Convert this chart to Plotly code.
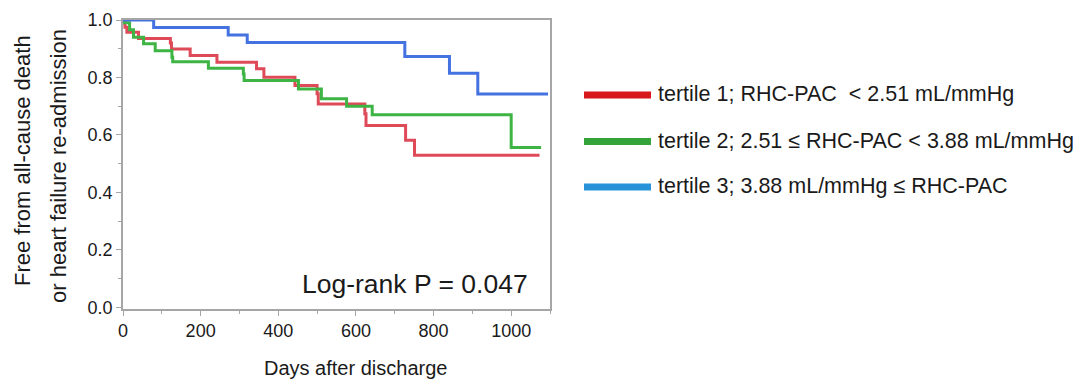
import plotly.graph_objects as go

# Kaplan-Meier step data (days, survival)
t1_days = [0, 5, 10, 40, 122, 125, 173, 242, 344, 363, 443, 500, 503, 623, 626, 728, 751, 1073]
t1_surv = [0.99, 0.975, 0.957, 0.936, 0.92, 0.899, 0.876, 0.853, 0.830, 0.801, 0.772, 0.743, 0.708, 0.674, 0.633, 0.581, 0.529, 0.529]

t2_days = [0, 17, 27, 53, 83, 126, 128, 220, 310, 312, 452, 511, 576, 642, 1000, 1077]
t2_surv = [0.99, 0.966, 0.94, 0.917, 0.893, 0.870, 0.855, 0.832, 0.812, 0.789, 0.760, 0.726, 0.700, 0.670, 0.556, 0.556]

t3_days = [0, 79, 271, 320, 726, 841, 914, 1095]
t3_surv = [1.0, 0.974, 0.948, 0.922, 0.873, 0.815, 0.742, 0.742]

legend_labels = [
    "tertile 1; RHC-PAC  < 2.51 mL/mmHg",
    "tertile 2; 2.51 ≤ RHC-PAC < 3.88 mL/mmHg",
    "tertile 3; 3.88 mL/mmHg ≤ RHC-PAC",
]
y_title_lines = ["Free from all-cause death", "or heart failure re-admission"]
x_title = "Days after discharge"
curve_colors = ["#de4a58", "#3db444", "#4472e0"]
legend_colors = ["#d7191c", "#33a33a", "#2893d8"]

FONT = "Liberation Sans, Arial, sans-serif"
TXT = "#1a1a1a"

fig = go.Figure()
for d, s, c in [(t1_days, t1_surv, curve_colors[0]),
                (t2_days, t2_surv, curve_colors[1]),
                (t3_days, t3_surv, curve_colors[2])]:
    fig.add_trace(go.Scatter(x=d, y=s, mode="lines", line=dict(color=c, width=3, shape="hv"),
                             showlegend=False, hoverinfo="skip"))

W, H = 1083, 383
OFF = 8  # page body margin
PL, PR, PT, PB = 123, 550, 20, 309  # plot box in screen pixels


def px(x):
    return (x - PL) / (PR - PL)


def py(y):
    return (PB - y) / (PB - PT)


leg_y = [94, 140.5, 186]
for lab, col, yy in zip(legend_labels, legend_colors, leg_y):
    fig.add_shape(type="line", xref="paper", yref="paper",
                  x0=px(584), x1=px(651), y0=py(yy + 1), y1=py(yy + 1),
                  line=dict(color=col, width=7))
    fig.add_annotation(xref="paper", yref="paper", x=px(656), y=py(yy),
                       text=lab, showarrow=False, xanchor="left", yanchor="middle",
                       font=dict(family=FONT, size=21.5, color=TXT))

fig.add_annotation(xref="paper", yref="paper", x=px(530), y=py(284),
                   text="Log-rank P = 0.047", showarrow=False, xanchor="right", yanchor="middle",
                   font=dict(family=FONT, size=26.5, color=TXT))

# axis titles as annotations
for line, xc, yc in zip(y_title_lines, [22, 58], [161, 166]):
    fig.add_annotation(xref="paper", yref="paper", x=px(xc), y=py(yc), text=line, textangle=-90,
                       showarrow=False, xanchor="center", yanchor="middle",
                       font=dict(family=FONT, size=22, color=TXT))
fig.add_annotation(xref="paper", yref="paper", x=px(355), y=py(368), text=x_title,
                   showarrow=False, xanchor="center", yanchor="middle",
                   font=dict(family=FONT, size=20, color=TXT))

axis_common = dict(showline=True, linecolor="#a6a6a6", linewidth=1.5, mirror=True,
                   ticks="outside", ticklen=5, tickcolor="#a6a6a6", tickwidth=1,
                   showgrid=False, zeroline=False,
                   tickfont=dict(family=FONT, size=18, color=TXT))

fig.update_layout(
    width=W, height=H,
    margin=dict(l=PL - OFF, r=W - (PR - OFF), t=PT - OFF, b=H - (PB - OFF), autoexpand=False),
    paper_bgcolor="white", plot_bgcolor="white",
    xaxis=dict(range=[0, 1100], tickvals=[0, 200, 400, 600, 800, 1000],
               minor=dict(ticks="outside", ticklen=3, tickcolor="#a6a6a6", dtick=100, tick0=0),
               **axis_common),
    yaxis=dict(range=[-0.006, 1.0], tickvals=[0, 0.2, 0.4, 0.6, 0.8, 1.0], tickformat=".1f",
               minor=dict(ticks="outside", ticklen=3, tickcolor="#a6a6a6", dtick=0.1, tick0=0),
               **axis_common),
)

fig.write_html("out.html")
